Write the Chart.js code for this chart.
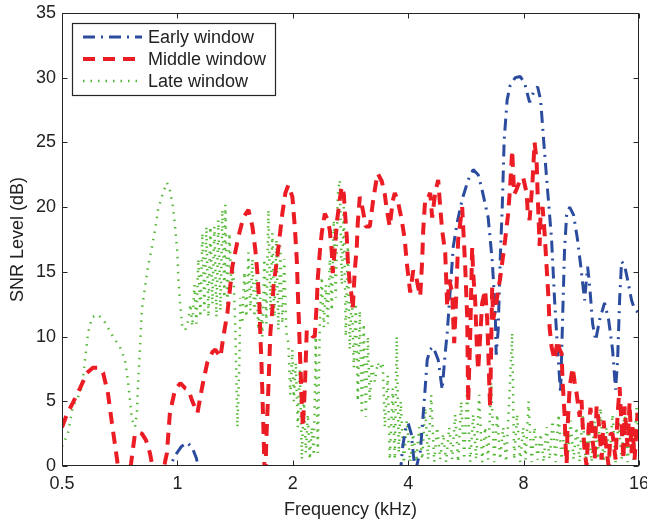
<!DOCTYPE html>
<html>
<head>
<meta charset="utf-8">
<script src="https://cdn.jsdelivr.net/npm/chart.js@4.4.1/dist/chart.umd.min.js"></script>
<style>
  html, body { margin: 0; padding: 0; background: #fff; }
  #chart { display: block; }
</style>
</head>
<body>
<canvas id="chart" width="647" height="526"></canvas>
<script>
// Graduations des axes
const xTicks = [0.5, 1, 2, 4, 8, 16];
const yTicks = [0, 5, 10, 15, 20, 25, 30, 35];

// Early window (kHz / dB), les valeurs négatives passent sous l'axe
const earlyFreq = [0.956, 0.968, 0.991, 1.024, 1.062, 1.094, 1.121, 1.148,
  3.802, 3.871, 3.942, 4.0, 4.073, 4.122, 4.172, 4.248, 4.299, 4.404, 4.484, 4.565,
  4.648, 4.790, 4.906, 4.995, 5.056, 5.147, 5.241, 5.368, 5.532, 5.735, 5.910, 6.090,
  6.238, 6.466, 6.624, 6.744, 6.785, 6.867, 6.950, 7.034, 7.119, 7.248, 7.380, 7.605,
  7.836, 8.048, 8.294, 8.495, 8.702, 8.860, 9.021, 9.240, 9.465, 9.637, 9.812, 9.990,
  10.11, 10.23, 10.36, 10.55, 10.80, 11.06, 11.27, 11.54, 11.75, 11.89, 12.11, 12.33,
  12.63, 13.01, 13.33, 13.65, 13.90, 14.07, 14.24, 14.41, 14.67, 14.94, 15.30, 15.58, 16];
const earlyLevel = [-1, 0.3, 0.9, 1.5, 1.8, 1.4, 0.6, -1,
  -1, 1.5, 3.0, 3.3, 2.5, 1.0, -0.5, 0.5, 1.0, 5.0, 8.2, 9.0,
  9.2, 8.2, 5.9, 8.7, 10.3, 13.5, 16.9, 18.8, 20.6, 22.1, 22.9, 22.5,
  21.3, 19.2, 15.9, 12.1, 8.6, 10.5, 15.9, 19.8, 25.2, 28.3, 29.4, 30.0,
  30.1, 29.6, 28.1, 28.9, 29.3, 28.3, 25.2, 21.3, 17.5, 12.8, 9.0, 5.6,
  11.3, 16.7, 19.4, 20.0, 19.4, 17.5, 15.5, 12.8, 15.4, 14.0, 11.0, 9.7,
  11.3, 12.6, 11.3, 9.0, 5.9, 8.2, 12.8, 15.8, 15.5, 14.4, 12.8, 12.1, 11.8];

// Middle window
const middleFreq = [0.5, 0.515, 0.534, 0.557, 0.581, 0.602, 0.621, 0.640, 0.659, 0.675,
  0.696, 0.708, 0.743, 0.757, 0.775, 0.789, 0.808, 0.828, 0.848, 0.864, 0.879, 0.917,
  0.928, 0.939, 0.956, 0.986, 1.018, 1.049, 1.068, 1.094, 1.128, 1.162, 1.197, 1.234,
  1.256, 1.295, 1.318, 1.350, 1.391, 1.442, 1.486, 1.532, 1.569, 1.597, 1.617, 1.636,
  1.646, 1.656, 1.666, 1.676, 1.686, 1.696, 1.706, 1.727, 1.748, 1.769, 1.780, 1.823,
  1.878, 1.913, 1.947, 1.995, 2.024, 2.049, 2.061, 2.073, 2.086, 2.111, 2.124, 2.150,
  2.175, 2.215, 2.255, 2.282, 2.310, 2.324, 2.352, 2.380, 2.424, 2.468, 2.498, 2.528,
  2.543, 2.574, 2.605, 2.652, 2.684, 2.717, 2.733, 2.766, 2.783, 2.816, 2.850, 2.867,
  2.902, 2.937, 2.955, 2.991, 3.045, 3.100, 3.176, 3.233, 3.292, 3.332, 3.413, 3.475,
  3.517, 3.581, 3.646, 3.690, 3.757, 3.848, 3.918, 3.966, 4.048, 4.122, 4.197, 4.248,
  4.299, 4.351, 4.377, 4.430, 4.484, 4.565, 4.620, 4.704, 4.790, 4.848, 4.906, 4.995,
  5.025, 5.056, 5.117, 5.210, 5.241, 5.273, 5.336, 5.401, 5.532, 5.633, 5.701, 5.735,
  5.804, 5.874, 5.910, 5.981, 6.017, 6.053, 6.090, 6.163, 6.238, 6.351, 6.428, 6.466,
  6.505, 6.543, 6.583, 6.624, 6.664, 6.785, 6.867, 6.950, 7.034, 7.162, 7.292, 7.380,
  7.469, 7.559, 7.650, 7.836, 7.979, 8.145, 8.195, 8.294, 8.444, 8.546, 8.650, 8.702,
  8.807, 8.860, 8.967, 9.075, 9.185, 9.296, 9.352, 9.465, 9.637, 9.812, 9.930, 10.05,
  10.11, 10.23, 10.30, 10.36, 10.42, 10.55, 10.74, 10.87, 11.00, 11.20, 11.33, 11.40,
  11.54, 11.68, 11.82, 11.96, 12.11, 12.26, 12.40, 12.55, 12.63, 12.78, 12.93, 13.17,
  13.33, 13.49, 13.65, 13.90, 14.07, 14.24, 14.41, 14.58, 14.67, 14.94, 15.12, 15.30,
  15.39, 15.58, 15.86, 16];
const middleLevel = [3.0, 4.0, 4.9, 6.0, 7.2, 7.6, 7.6, 7.2, 5.6, 3.3,
  0.5, -1.5, -1.5, 0.2, 2.5, 2.6, 2.5, 2.0, 1.0, -0.3, -1.5, -1.0,
  0.3, 1.0, 4.1, 5.9, 6.4, 6.0, 5.9, 5.0, 4.1, 6.2, 8.0, 8.8,
  9.0, 8.4, 10.0, 11.8, 15.4, 17.7, 19.2, 19.8, 18.5, 16.7, 14.9, 12.5,
  10.0, 8.2, 5.6, 3.0, 0.2, -1.0, 2.0, 6.0, 10.3, 12.1, 13.8, 16.2,
  19.5, 21.1, 21.7, 20.8, 18.5, 15.9, 13.5, 11.5, 9.0, 5.0, 3.0, 6.0,
  10.5, 10.3, 10.0, 10.0, 12.6, 14.5, 16.5, 18.0, 19.5, 19.0, 18.2, 16.5,
  14.9, 16.7, 18.8, 20.6, 21.6, 21.0, 19.8, 17.7, 15.9, 14.1, 13.1, 12.1,
  15.1, 16.9, 18.8, 20.8, 19.8, 18.5, 18.5, 20.3, 21.8, 22.6, 22.0, 21.0,
  19.8, 18.5, 20.5, 21.1, 20.5, 19.0, 17.5, 15.7, 13.4, 15.1, 14.6, 13.8,
  13.1, 15.9, 18.2, 20.6, 20.6, 21.1, 19.2, 21.1, 22.1, 20.0, 18.2, 16.5,
  14.5, 12.3, 14.4, 13.4, 11.3, 9.5, 13.0, 17.5, 20.0, 15.4, 11.5, 4.9,
  10.0, 16.9, 14.9, 12.8, 10.7, 8.7, 7.4, 10.0, 12.6, 13.6, 11.3, 9.2,
  6.6, 4.6, 9.0, 13.8, 11.3, 12.5, 13.6, 14.5, 15.7, 17.5, 19.5, 21.6,
  24.4, 21.0, 21.3, 22.1, 22.3, 21.1, 19.8, 19.0, 22.1, 25.0, 23.6, 21.1,
  17.0, 19.5, 20.0, 18.0, 15.4, 12.8, 10.7, 9.2, 8.2, 9.7, 9.0, 8.7,
  6.6, 4.0, 1.5, 0.2, 3.0, 6.1, 7.6, 6.5, 5.6, 3.8, 5.1, 3.3,
  1.2, 0, 3, 4.5, 2, 0.5, 4.6, 3.5, 2.5, 0.5, 3.5, 1.2,
  0, 2.5, 2.5, 0.5, 4, 6.1, 3, 0.5, 4.6, 1.5, 4.9, 1,
  3.0, 0.5, 4.1, 3.5];

// Late window
const lateFreq = [0.5, 0.509, 0.518, 0.534, 0.550, 0.564, 0.574, 0.585, 0.599, 0.621,
  0.647, 0.679, 0.708, 0.730, 0.743, 0.752, 0.761, 0.775, 0.784, 0.789, 0.799, 0.808,
  0.823, 0.838, 0.858, 0.874, 0.890, 0.917, 0.939, 0.956, 0.974, 0.986, 1.0, 1.006,
  1.018, 1.030, 1.049, 1.068, 1.081, 1.094, 1.108, 1.121, 1.134, 1.148, 1.162, 1.176,
  1.190, 1.205, 1.219, 1.234, 1.249, 1.264, 1.279, 1.295, 1.310, 1.326, 1.334, 1.350,
  1.367, 1.383, 1.400, 1.417, 1.434, 1.451, 1.460, 1.477, 1.495, 1.513, 1.532, 1.550,
  1.569, 1.588, 1.607, 1.626, 1.646, 1.666, 1.686, 1.706, 1.727, 1.748, 1.769, 1.790,
  1.812, 1.834, 1.856, 1.878, 1.901, 1.924, 1.947, 1.971, 1.995, 2.012, 2.036, 2.061,
  2.086, 2.111, 2.137, 2.163, 2.189, 2.215, 2.242, 2.269, 2.296, 2.324, 2.352, 2.380,
  2.409, 2.438, 2.468, 2.498, 2.528, 2.558, 2.589, 2.621, 2.652, 2.684, 2.717, 2.749,
  2.783, 2.816, 2.850, 2.885, 2.920, 2.955, 2.991, 3.027, 3.063, 3.100, 3.138, 3.176,
  3.214, 3.272, 3.332, 3.372, 3.433, 3.475, 3.538, 3.581, 3.646, 3.690, 3.734, 3.780,
  3.825, 3.895, 3.966, 4.048, 4.122, 4.197, 4.273, 4.351, 4.430, 4.510, 4.592, 4.676,
  4.761, 4.848, 4.936, 5.025, 5.117, 5.210, 5.304, 5.401, 5.499, 5.599, 5.701, 5.804,
  5.910, 6.017, 6.126, 6.238, 6.351, 6.466, 6.583, 6.704, 6.826, 6.950, 7.076, 7.205,
  7.336, 7.469, 7.559, 7.696, 7.836, 7.979, 8.097, 8.244, 8.394, 8.546, 8.702, 8.860,
  9.021, 9.185, 9.352, 9.522, 9.695, 9.871, 10.05, 10.23, 10.42, 10.61, 10.80, 11.00,
  11.20, 11.40, 11.61, 11.82, 12.03, 12.26, 12.48, 12.70, 12.93, 13.17, 13.41, 13.65,
  13.90, 14.15, 14.41, 14.67, 14.94, 15.21, 15.49, 15.77, 16];
const lateLevel = [1.5, 2.0, 2.5, 4.6, 5.3, 6.1, 8.2, 10.3, 11.5, 11.7,
  11.1, 10.0, 9.2, 8.2, 6.6, 5.1, 3.6, 3.0, 4.1, 6.1, 9.2, 12.1,
  13.8, 15.4, 16.9, 18.2, 19.8, 21.1, 21.9, 21.3, 20.0, 18.5, 16.5, 14.4,
  12.3, 10.7, 10.5, 11.3, 12.5, 10.8, 14, 11, 16, 11.5, 18, 12,
  18.5, 11.5, 18.5, 12.5, 18.5, 11.5, 19, 12, 19.8, 13, 20.2, 12,
  18, 14, 15, 10.3, 3.0, 8, 13, 11, 15, 11.5, 16.5, 12,
  16, 11.5, 14.5, 10.5, 13, 10, 16, 11, 19.8, 12, 18, 11.5,
  17.5, 10.5, 17, 11, 16, 10.3, 9.5, 5.5, 9, 5, 8, 3,
  7.5, 0.5, 5.5, 1, 4, 0.5, 3, 0.8, 10, 1, 11, 14.6,
  10.7, 14, 11, 16, 12, 19, 13, 21, 22.1, 14, 20, 10,
  17, 9, 13.4, 7.6, 12.6, 5, 12, 4, 11, 3.8, 10, 5,
  8, 6.5, 8, 7.5, 8, 3, 7, 0.5, 6, 0.5, 10, 1,
  5, 0.2, 3.5, 0.3, 2.5, 0.3, 3, 0.5, 4.5, 0.5, 5.5, 0.3,
  3, 0.5, 2.5, 0.3, 3, 0.5, 4, 0.3, 5, 0.5, 6, 0.3,
  4, 0.5, 5.5, 0.3, 3, 0.5, 6.5, 0.3, 4, 0.5, 3, 0.3,
  5, 10.3, 0.5, 4, 0.3, 3, 0.5, 5, 0.3, 3, 0.5, 2.5,
  0.3, 3, 0.5, 3.5, 0.3, 4, 0.5, 3, 0.3, 3.5, 0.5, 3,
  0.3, 4, 0.5, 3, 0.3, 3.5, 0.5, 4.5, 0.3, 3, 0.5, 4,
  0.3, 3.5, 0.5, 4.5, 0.3, 3, 0.5, 4.5, 2];

const fontFamily = '"Liberation Sans", Arial, Helvetica, sans-serif';
const axisColor = '#262626';

function toPoints(freq, level) {
  return freq.map((f, i) => ({ x: f, y: level[i] }));
}

// Cadre façon MATLAB avec graduations vers l'intérieur
const boxPlugin = {
  id: 'boxPlugin',
  afterDatasetsDraw(chart) {
    const { ctx, chartArea: a, scales } = chart;
    const left = Math.round(a.left) + 0.5;
    const right = Math.round(a.right) - 0.5;
    const top = Math.round(a.top) + 0.5;
    const bottom = Math.round(a.bottom) - 0.5;
    const len = 5;
    ctx.save();
    ctx.strokeStyle = axisColor;
    ctx.lineWidth = 1;
    ctx.setLineDash([]);
    ctx.strokeRect(left, top, right - left, bottom - top);
    ctx.beginPath();
    xTicks.forEach(v => {
      const px = Math.round(scales.x.getPixelForValue(v)) + 0.5;
      ctx.moveTo(px, bottom); ctx.lineTo(px, bottom - len);
      ctx.moveTo(px, top); ctx.lineTo(px, top + len);
    });
    yTicks.forEach(v => {
      const py = Math.round(scales.y.getPixelForValue(v)) + 0.5;
      ctx.moveTo(left, py); ctx.lineTo(left + len, py);
      ctx.moveTo(right, py); ctx.lineTo(right - len, py);
    });
    ctx.stroke();
    ctx.restore();
  }
};

// Légende encadrée en haut à gauche
const legendPlugin = {
  id: 'legendPlugin',
  afterDatasetsDraw(chart) {
    const { ctx, chartArea: a } = chart;
    const x0 = Math.round(a.left) + 10;
    const y0 = Math.round(a.top) + 10;
    const w = 203, h = 72;
    ctx.save();
    ctx.fillStyle = '#fff';
    ctx.fillRect(x0, y0, w, h);
    ctx.strokeStyle = axisColor;
    ctx.lineWidth = 1.2;
    ctx.strokeRect(x0 + 0.5, y0 + 0.5, w, h);
    chart.data.datasets.forEach((ds, i) => {
      const y = y0 + 14 + i * 22;
      ctx.beginPath();
      ctx.strokeStyle = ds.borderColor;
      ctx.lineWidth = ds.borderWidth;
      ctx.lineCap = 'butt';
      ctx.setLineDash(ds.borderDash);
      ctx.moveTo(x0 + 11, y);
      ctx.lineTo(x0 + 70, y);
      ctx.stroke();
      ctx.setLineDash([]);
      ctx.fillStyle = '#222';
      ctx.font = '18px ' + fontFamily;
      ctx.textBaseline = 'middle';
      ctx.textAlign = 'left';
      ctx.fillText(ds.label, x0 + 76, y + 1);
    });
    ctx.restore();
  }
};

const ctx = document.getElementById('chart').getContext('2d');
new Chart(ctx, {
  type: 'line',
  data: {
    datasets: [{
      label: 'Early window',
      data: toPoints(earlyFreq, earlyLevel),
      borderColor: '#2b4c9e',
      borderWidth: 3,
      borderDash: [12, 6, 2, 6],
      order: 2
    }, {
      label: 'Middle window',
      data: toPoints(middleFreq, middleLevel),
      borderColor: '#ec1c24',
      borderWidth: 4,
      borderDash: [12, 8],
      order: 1
    }, {
      label: 'Late window',
      data: toPoints(lateFreq, lateLevel),
      borderColor: '#55b836',
      borderWidth: 2.5,
      borderDash: [1.5, 6],
      order: 3
    }]
  },
  options: {
    responsive: false,
    animation: false,
    devicePixelRatio: 1,
    layout: { padding: { left: 0, top: 13, right: 8, bottom: 0 } },
    datasets: {
      line: { pointRadius: 0, tension: 0, fill: false, clip: 0, borderJoinStyle: 'bevel' }
    },
    plugins: {
      legend: { display: false },
      tooltip: { enabled: false }
    },
    scales: {
      x: {
        type: 'logarithmic',
        min: 0.5,
        max: 16,
        grid: { display: false, drawTicks: false },
        border: { display: false },
        afterBuildTicks: scale => { scale.ticks = xTicks.map(v => ({ value: v })); },
        afterFit: scale => { scale.height = 60; scale.paddingLeft = 0; scale.paddingRight = 0; },
        ticks: {
          autoSkip: false,
          maxRotation: 0,
          padding: 7,
          color: '#222',
          font: { family: fontFamily, size: 18 },
          callback: value => String(value)
        },
        title: {
          display: true,
          text: 'Frequency (kHz)',
          color: '#222',
          font: { family: fontFamily, size: 18 },
          padding: { top: 0, bottom: 5 }
        }
      },
      y: {
        min: 0,
        max: 35,
        grid: { display: false, drawTicks: false },
        border: { display: false },
        afterBuildTicks: scale => { scale.ticks = yTicks.map(v => ({ value: v })); },
        afterFit: scale => { scale.width = 62; scale.paddingTop = 0; scale.paddingBottom = 0; },
        ticks: {
          padding: 6,
          color: '#222',
          font: { family: fontFamily, size: 18 }
        },
        title: {
          display: true,
          text: 'SNR Level (dB)',
          color: '#222',
          font: { family: fontFamily, size: 18 },
          padding: { top: 7, bottom: 0 }
        }
      }
    }
  },
  plugins: [boxPlugin, legendPlugin]
});
</script>
</body>
</html>
